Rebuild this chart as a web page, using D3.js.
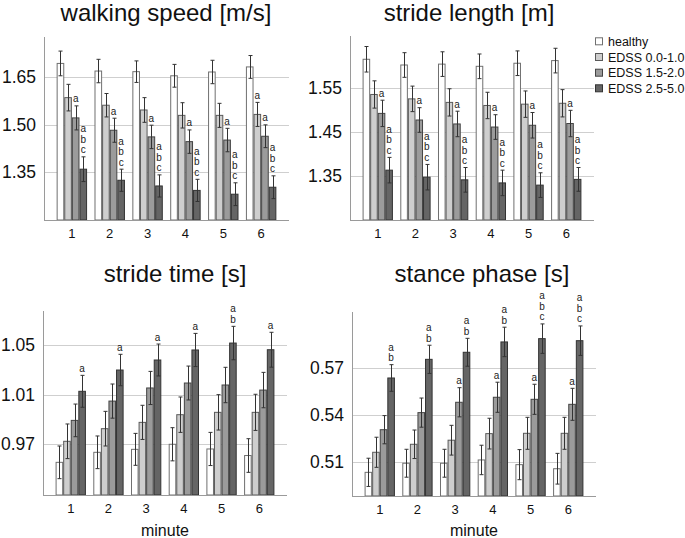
<!DOCTYPE html>
<html>
<head>
<meta charset="utf-8">
<script src="https://cdn.jsdelivr.net/npm/d3@7/dist/d3.min.js"></script>
<style>
  html, body { margin: 0; padding: 0; background: #fff; }
  svg { display: block; font-family: "Liberation Sans", Arial, sans-serif; }
</style>
</head>
<body>
<svg id="chart" width="685" height="538"></svg>
<script>
// ---------- data ----------
const minutes = ["1", "2", "3", "4", "5", "6"];
const groups = ["healthy", "EDSS 0.0-1.0", "EDSS 1.5-2.0", "EDSS 2.5-5.0"];

// walking speed [m/s] : rows = groups, cols = minutes
const speedMean = [
  [1.693, 1.669, 1.667, 1.654, 1.666, 1.682],
  [1.585, 1.561, 1.546, 1.529, 1.529, 1.532],
  [1.521, 1.482, 1.461, 1.446, 1.451, 1.463],
  [1.359, 1.324, 1.306, 1.292, 1.280, 1.302]
];
const speedErr = [
  [0.039, 0.037, 0.034, 0.036, 0.037, 0.036],
  [0.042, 0.037, 0.039, 0.040, 0.038, 0.038],
  [0.038, 0.038, 0.037, 0.037, 0.037, 0.036],
  [0.039, 0.035, 0.035, 0.035, 0.036, 0.036]
];
const speedSig = [
  ["", "", "", "", "", ""],
  ["", "", "", "", "", "a"],
  ["a", "a", "a", "a", "a", "a"],
  ["abc", "abc", "abc", "abc", "abc", "abc"]
];
const speedTicks = [1.35, 1.50, 1.65];

// stride length [m]
const lengthMean = [
  [1.616, 1.603, 1.605, 1.600, 1.607, 1.613],
  [1.536, 1.526, 1.518, 1.511, 1.514, 1.516],
  [1.493, 1.478, 1.469, 1.462, 1.466, 1.470],
  [1.364, 1.348, 1.342, 1.335, 1.330, 1.343]
];
const lengthErr = [
  [0.029, 0.028, 0.028, 0.028, 0.028, 0.028],
  [0.031, 0.029, 0.031, 0.030, 0.030, 0.031],
  [0.030, 0.028, 0.029, 0.028, 0.029, 0.030],
  [0.029, 0.029, 0.028, 0.029, 0.028, 0.027]
];
const lengthSig = [
  ["", "", "", "", "", ""],
  ["", "", "", "", "", ""],
  ["a", "a", "a", "a", "a", "a"],
  ["abc", "abc", "abc", "abc", "abc", "abc"]
];
const lengthTicks = [1.35, 1.45, 1.55];

// stride time [s]
const timeMean = [
  [0.9552, 0.9633, 0.9657, 0.9698, 0.9660, 0.9607],
  [0.9722, 0.9824, 0.9875, 0.9937, 0.9956, 0.9956],
  [0.9891, 1.0047, 1.0153, 1.0193, 1.0177, 1.0136],
  [1.0126, 1.0298, 1.0379, 1.0460, 1.0516, 1.0462]
];
const timeErr = [
  [0.0132, 0.0132, 0.0129, 0.0134, 0.0134, 0.0136],
  [0.0140, 0.0140, 0.0138, 0.0143, 0.0143, 0.0146],
  [0.0132, 0.0138, 0.0134, 0.0137, 0.0143, 0.0143],
  [0.0129, 0.0127, 0.0129, 0.0134, 0.0135, 0.0141]
];
const timeSig = [
  ["", "", "", "", "", ""],
  ["", "", "", "", "", ""],
  ["", "", "", "", "", ""],
  ["a", "a", "a", "a", "ab", "a"]
];
const timeTicks = [0.97, 1.01, 1.05];

// stance phase [s]
const stanceMean = [
  [0.5036, 0.5094, 0.5094, 0.5115, 0.5085, 0.5059],
  [0.5164, 0.5215, 0.5241, 0.5283, 0.5285, 0.5285],
  [0.5308, 0.5417, 0.5483, 0.5515, 0.5502, 0.5470],
  [0.5638, 0.5757, 0.5802, 0.5868, 0.5889, 0.5876]
];
const stanceErr = [
  [0.0090, 0.0089, 0.0089, 0.0094, 0.0096, 0.0098],
  [0.0096, 0.0091, 0.0095, 0.0098, 0.0102, 0.0102],
  [0.0090, 0.0093, 0.0093, 0.0096, 0.0096, 0.0102],
  [0.0085, 0.0090, 0.0089, 0.0094, 0.0094, 0.0094]
];
const stanceSig = [
  ["", "", "", "", "", ""],
  ["", "", "", "", "", ""],
  ["", "", "a", "a", "a", "a"],
  ["ab", "ab", "ab", "ab", "abc", "abc"]
];
const stanceTicks = [0.51, 0.54, 0.57];

// ---------- styling / layout ----------
const fills = ["#ffffff", "#cecece", "#9b9b9b", "#656565"];
const strokes = ["#707070", "#5a5a5a", "#444444", "#333333"];

const panels = [
  { title: "walking speed [m/s]", mean: speedMean, err: speedErr, sig: speedSig, ticks: speedTicks, fmt: ".2f",
    x0: 44, x1: 289, yTop: 37, yBot: 220, domain: [1.1985, 1.7765], titleX: 166, titleY: 21, xlab: false },
  { title: "stride length [m]", mean: lengthMean, err: lengthErr, sig: lengthSig, ticks: lengthTicks, fmt: ".2f",
    x0: 350, x1: 594, yTop: 36, yBot: 220, domain: [1.2507, 1.6689], titleX: 469, titleY: 21, xlab: false },
  { title: "stride time [s]", mean: timeMean, err: timeErr, sig: timeSig, ticks: timeTicks, fmt: ".2f",
    x0: 43, x1: 287, yTop: 311, yBot: 495, domain: [0.9288, 1.0775], titleX: 175, titleY: 282, xlab: true },
  { title: "stance phase [s]", mean: stanceMean, err: stanceErr, sig: stanceSig, ticks: stanceTicks, fmt: ".2f",
    x0: 352, x1: 596, yTop: 312, yBot: 496, domain: [0.4885, 0.6059], titleX: 482, titleY: 282, xlab: true }
];

const svg = d3.select("#chart");

panels.forEach(p => {
  const g = svg.append("g");
  const x = d3.scaleBand().domain(minutes).range([p.x0, p.x1]).paddingInner(0.196).paddingOuter(0.334);
  const xs = d3.scaleBand().domain(groups).range([0, x.bandwidth()]);
  const y = d3.scaleLinear().domain(p.domain).range([p.yBot, p.yTop]);

  // title
  g.append("text").attr("x", p.titleX).attr("y", p.titleY)
    .attr("text-anchor", "middle").attr("font-size", 24).attr("fill", "#111")
    .text(p.title);

  // gridlines
  g.selectAll(".grid").data(p.ticks).enter().append("line")
    .attr("x1", p.x0).attr("x2", p.x1)
    .attr("y1", d => Math.round(y(d)) + 0.5).attr("y2", d => Math.round(y(d)) + 0.5)
    .attr("stroke", "#cfcfcf").attr("stroke-width", 1);

  // y tick labels via axis
  const yAxis = d3.axisLeft(y).tickValues(p.ticks).tickFormat(d3.format(p.fmt)).tickSize(0).tickPadding(8);
  const ya = g.append("g").attr("transform", `translate(${p.x0},0)`).call(yAxis);
  ya.select(".domain").remove();
  ya.selectAll("text").attr("font-size", 17.5).attr("fill", "#111")
    .attr("font-family", "'Liberation Sans', Arial, sans-serif");

  // x tick labels via axis
  const xAxis = d3.axisBottom(x).tickSize(0).tickPadding(9);
  const xa = g.append("g").attr("transform", `translate(0,${p.yBot})`).call(xAxis);
  xa.select(".domain").remove();
  xa.selectAll("text").attr("font-size", 13).attr("fill", "#111")
    .attr("font-family", "'Liberation Sans', Arial, sans-serif");

  // bars
  groups.forEach((grp, gi) => {
    const rows = minutes.map((m, mi) => ({ m, v: p.mean[gi][mi], e: p.err[gi][mi], s: p.sig[gi][mi] }));
    g.selectAll(null).data(rows).enter().append("rect")
      .attr("x", d => x(d.m) + xs(grp) + 0.5)
      .attr("width", xs.bandwidth() - 1)
      .attr("y", d => y(d.v))
      .attr("height", d => p.yBot - y(d.v))
      .attr("fill", fills[gi]).attr("stroke", strokes[gi]).attr("stroke-width", 1);

    // error bars
    const cx = d => Math.round(x(d.m) + xs(grp) + xs.bandwidth() / 2) + 0.5;
    g.selectAll(null).data(rows).enter().append("line")
      .attr("x1", cx).attr("x2", cx)
      .attr("y1", d => y(d.v + d.e)).attr("y2", d => y(d.v - d.e))
      .attr("stroke", "#333").attr("stroke-width", 1);
    g.selectAll(null).data(rows).enter().append("line")
      .attr("x1", d => cx(d) - 2).attr("x2", d => cx(d) + 2)
      .attr("y1", d => y(d.v + d.e)).attr("y2", d => y(d.v + d.e))
      .attr("stroke", "#333").attr("stroke-width", 1);
    g.selectAll(null).data(rows).enter().append("line")
      .attr("x1", d => cx(d) - 2).attr("x2", d => cx(d) + 2)
      .attr("y1", d => y(d.v - d.e)).attr("y2", d => y(d.v - d.e))
      .attr("stroke", "#333").attr("stroke-width", 1);

    // significance letters
    rows.forEach(d => {
      const letters = d.s.split("");
      const n = letters.length;
      letters.forEach((ch, li) => {
        g.append("text")
          .attr("x", x(d.m) + xs(grp) + xs.bandwidth() / 2)
          .attr("y", y(d.v + d.e) - 3.5 - (n - 1 - li) * 10.5)
          .attr("text-anchor", "middle").attr("font-size", 10).attr("fill", "#222")
          .text(ch);
      });
    });
  });

  // axis lines
  g.append("line").attr("x1", p.x0 + 0.5).attr("x2", p.x0 + 0.5)
    .attr("y1", p.yTop).attr("y2", p.yBot + 0.5).attr("stroke", "#9a9a9a");
  g.append("line").attr("x1", p.x0).attr("x2", p.x1)
    .attr("y1", p.yBot + 0.5).attr("y2", p.yBot + 0.5).attr("stroke", "#9a9a9a");

  if (p.xlab) {
    g.append("text").attr("x", (p.x0 + p.x1) / 2).attr("y", 536)
      .attr("text-anchor", "middle").attr("font-size", 16).attr("fill", "#111").text("minute");
  }
});

// legend
const legY = [41.3, 57.0, 72.7, 88.3];
const leg = svg.append("g");
groups.forEach((grp, gi) => {
  leg.append("rect").attr("x", 595.5).attr("y", legY[gi] - 3.5).attr("width", 7).attr("height", 7)
    .attr("fill", fills[gi]).attr("stroke", strokes[gi]);
  leg.append("text").attr("x", 608).attr("y", legY[gi] + 4.5)
    .attr("font-size", 12.5).attr("fill", "#111").text(grp);
});
</script>
</body>
</html>
